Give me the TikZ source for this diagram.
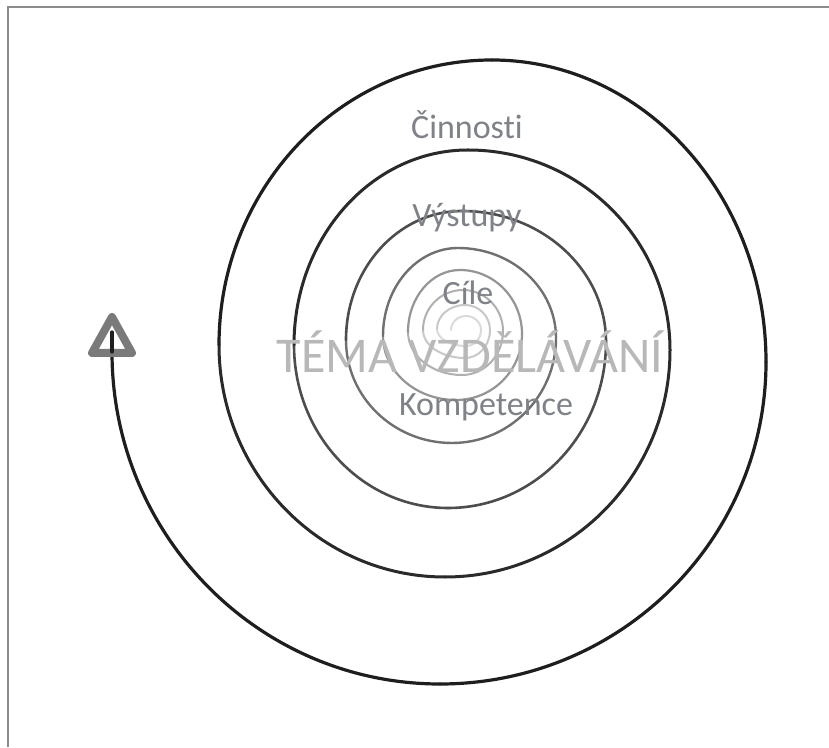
\documentclass[tikz,border=0pt]{standalone}
\usepackage{fontspec}
\setmainfont{Carlito}[Ligatures=NoCommon]
\usetikzlibrary{calc}
\definecolor{c0}{HTML}{1E1E1E}
\definecolor{c1}{HTML}{2A2A2A}
\definecolor{c2}{HTML}{4D4D4D}
\definecolor{c3}{HTML}{707070}
\definecolor{c4}{HTML}{959595}
\definecolor{c5}{HTML}{B0B0B0}
\definecolor{c6}{HTML}{C8C8C8}
\definecolor{c7}{HTML}{DADADA}
\definecolor{framegray}{HTML}{8C8C8C}
\definecolor{arrowgray}{HTML}{7A7A7A}
\definecolor{labelgray}{HTML}{7F8288}
\definecolor{themegray}{HTML}{B8B8B8}
\tikzset{
  t0/.style={draw=c0,line width=3.2pt,line cap=round},
  t1/.style={draw=c1,line width=3.0pt,line cap=round},
  t2/.style={draw=c2,line width=2.6pt,line cap=round},
  t3/.style={draw=c3,line width=2.4pt,line cap=round},
  t4/.style={draw=c4,line width=2.2pt,line cap=round},
  t5/.style={draw=c5,line width=2.0pt,line cap=round},
  t6/.style={draw=c6,line width=2.0pt,line cap=round},
  t7/.style={draw=c7,line width=2.0pt,line cap=round},
  lbl/.style={anchor=base,inner sep=0pt,text=labelgray,font=\fontsize{34}{40}\selectfont},
  theme/.style={anchor=base,inner sep=0pt,text=themegray,font=\fontsize{50}{58}\selectfont},
}
% quarter arcs between extreme points (y-up canvas)
\newcommand\spiLB[3]{\draw[#3] let \p1=(#1),\p2=(#2) in (#1) arc[start angle=180,end angle=270,x radius={\x2-\x1},y radius={\y1-\y2}];}
\newcommand\spiBR[3]{\draw[#3] let \p1=(#1),\p2=(#2) in (#1) arc[start angle=270,end angle=360,x radius={\x2-\x1},y radius={\y2-\y1}];}
\newcommand\spiRT[3]{\draw[#3] let \p1=(#1),\p2=(#2) in (#1) arc[start angle=0,end angle=90,x radius={\x1-\x2},y radius={\y2-\y1}];}
\newcommand\spiTL[3]{\draw[#3] let \p1=(#1),\p2=(#2) in (#1) arc[start angle=90,end angle=180,x radius={\x1-\x2},y radius={\y1-\y2}];}
\newcommand\spiTurn[6]{\spiLB{#1}{#2}{#6}\spiBR{#2}{#3}{#6}\spiRT{#3}{#4}{#6}\spiTL{#4}{#5}{#6}}
\begin{document}
\begin{tikzpicture}[x=1pt,y=1pt]
\useasboundingbox (0,0) rectangle (829,747);
\fill[white] (0,0) rectangle (829,747);
% frame
\draw[framegray,line width=2pt] (8,0) -- (8,740) -- (829,740);
% extreme points of the spiral (image coords converted: y -> 747-y)
\coordinate (L0) at (112,747-352);
\coordinate (B1) at (440,747-684);
\coordinate (R1) at (766,747-362);
\coordinate (T1) at (492,747-60);
\coordinate (L1) at (219,747-345);
\coordinate (B2) at (445,747-577);
\coordinate (R2) at (670,747-350);
\coordinate (T2) at (468,747-150);
\coordinate (L2) at (294,747-345);
\coordinate (B3) at (448,747-508);
\coordinate (R3) at (606,747-342);
\coordinate (T3) at (462,747-211);
\coordinate (L3) at (346,747-340);
\coordinate (B4) at (452,747-443);
\coordinate (R4) at (556,747-338);
\coordinate (T4) at (458,747-248);
\coordinate (L4) at (383,747-336);
\coordinate (B5) at (456,747-400);
\coordinate (R5) at (522,747-334);
\coordinate (T5) at (460,747-270);
\coordinate (L5) at (408,747-332);
\coordinate (B6) at (462,747-375);
\coordinate (R6) at (503,747-331);
\coordinate (T6) at (463,747-290);
\coordinate (L6) at (423,747-330);
\coordinate (B7) at (465,747-358);
\coordinate (R7) at (490,747-330);
\coordinate (T7) at (465,747-305);
\coordinate (L7) at (437,747-329);
\coordinate (B8) at (466,747-346);
\coordinate (R8) at (481,747-330);
\coordinate (T8) at (466,747-316);
\coordinate (L8) at (451,747-330);
% spiral, from the centre outwards
\spiTurn{L7}{B8}{R8}{T8}{L8}{t7}
\spiTurn{L6}{B7}{R7}{T7}{L7}{t6}
\spiTurn{L5}{B6}{R6}{T6}{L6}{t5}
\spiTurn{L4}{B5}{R5}{T5}{L5}{t4}
\spiTurn{L3}{B4}{R4}{T4}{L4}{t3}
\spiTurn{L2}{B3}{R3}{T3}{L3}{t2}
\spiTurn{L1}{B2}{R2}{T2}{L2}{t1}
\spiTurn{L0}{B1}{R1}{T1}{L1}{t0}
% arrow head
\coordinate (apex) at (112,747-317);
\coordinate (bl) at (92,747-353);
\coordinate (br) at (132,747-353);
\coordinate (tipin) at (112,747-332);
\draw[arrowgray,fill=white,line width=8pt,line join=round] (apex) -- (bl) -- (br) -- cycle;
\draw[t0] (L0) -- (tipin);
% labels
\node[lbl] (cinnosti) at (467,747-139) {Činnosti};
\node[lbl] (vystupy) at (467,747-227) {Výstupy};
\node[lbl] (cile) at (468,747-305) {Cíle};
\node[theme] (tema) at (470,747-373) {TÉMA VZDĚLÁVÁNÍ};
\node[lbl] (kompetence) at (486,747-416) {Kompetence};
\end{tikzpicture}
\end{document}
